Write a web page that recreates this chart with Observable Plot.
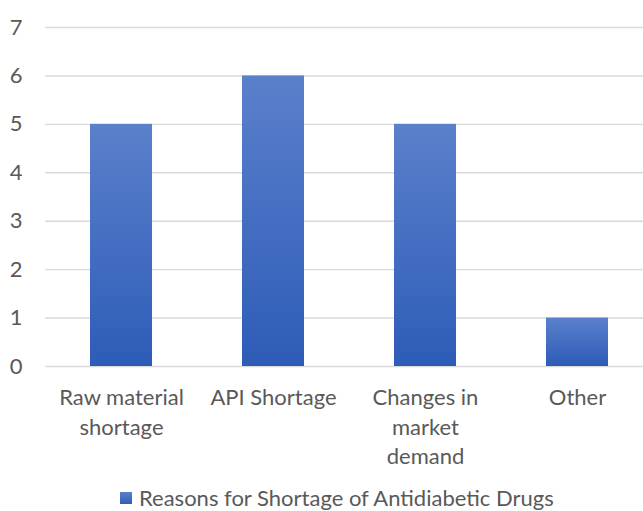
<!DOCTYPE html>
<html>
<head>
<meta charset="utf-8">
<script src="https://cdn.jsdelivr.net/npm/d3@7"></script>
<script src="https://cdn.jsdelivr.net/npm/@observablehq/plot@0.6"></script>
<style>
  html, body { margin: 0; padding: 0; background: #fff; }
  body { width: 643px; height: 511px; overflow: hidden; font-family: Lato, "Open Sans", sans-serif; }
  #chart svg { display: block; overflow: hidden; }
  #legend { height: 31px; position: relative; color: #595959; font-size: 22px; }
  #legend .item { position: absolute; left: 120px; top: 3px; display: flex; align-items: center; line-height: 30px; }
  #legend .sw { width: 12px; height: 12px; margin-right: 7px; background: linear-gradient(#5a80cb, #2f5db8); }
</style>
</head>
<body>
<div id="chart"></div>
<div id="legend"><div class="item"><span class="sw"></span><span id="legtext"></span></div></div>
<script>
const categories = ["Raw material\nshortage", "API Shortage", "Changes in\nmarket\ndemand", "Other"];
const values = [5, 6, 5, 1];
const yTicks = [0, 1, 2, 3, 4, 5, 6, 7];
const seriesName = "Reasons for Shortage of Antidiabetic Drugs";

const data = categories.map((c, i) => ({category: c, value: values[i]}));

const defs = () => {
  const ns = "http://www.w3.org/2000/svg";
  const d = document.createElementNS(ns, "defs");
  d.innerHTML = `
    <linearGradient id="barGrad" x1="0" y1="0" x2="0" y2="1">
      <stop offset="0" stop-color="#5b80cc"/>
      <stop offset="1" stop-color="#2d5cb7"/>
    </linearGradient>
    <filter id="barShadow" x="-20%" y="-20%" width="140%" height="140%">
      <feDropShadow dx="0" dy="1" stdDeviation="1.5" flood-color="#000" flood-opacity="0.35"/>
    </filter>`;
  return d;
};

const chart = Plot.plot({
  width: 643,
  height: 480,
  marginTop: 27,
  marginBottom: 114,
  marginLeft: 45,
  marginRight: 0,
  style: {fontFamily: "Lato, 'Open Sans', sans-serif", fontSize: "22px", color: "#595959", background: "#fff"},
  x: {domain: categories, range: [45, 653], paddingInner: 0.59, paddingOuter: 0.295, label: null},
  y: {domain: [0, 7], ticks: yTicks, label: null},
  marks: [
    defs,
    Plot.ruleY(yTicks, {stroke: "#d9d9d9", strokeWidth: 1.4}),
    Plot.barY(data, {x: "category", y: "value", fill: "url(#barGrad)", style: "filter:url(#barShadow)"}),
    Plot.axisY({ticks: yTicks, tickFormat: d => String(d), tickSize: 0, tickPadding: 23, fill: "#595959", fontSize: 22, label: null}),
    Plot.axisX({tickSize: 0, tickPadding: 18, fill: "#595959", fontSize: 22, lineHeight: 1.34, label: null})
  ]
});
document.getElementById("chart").appendChild(chart);
document.getElementById("legtext").textContent = seriesName;
</script>
</body>
</html>
